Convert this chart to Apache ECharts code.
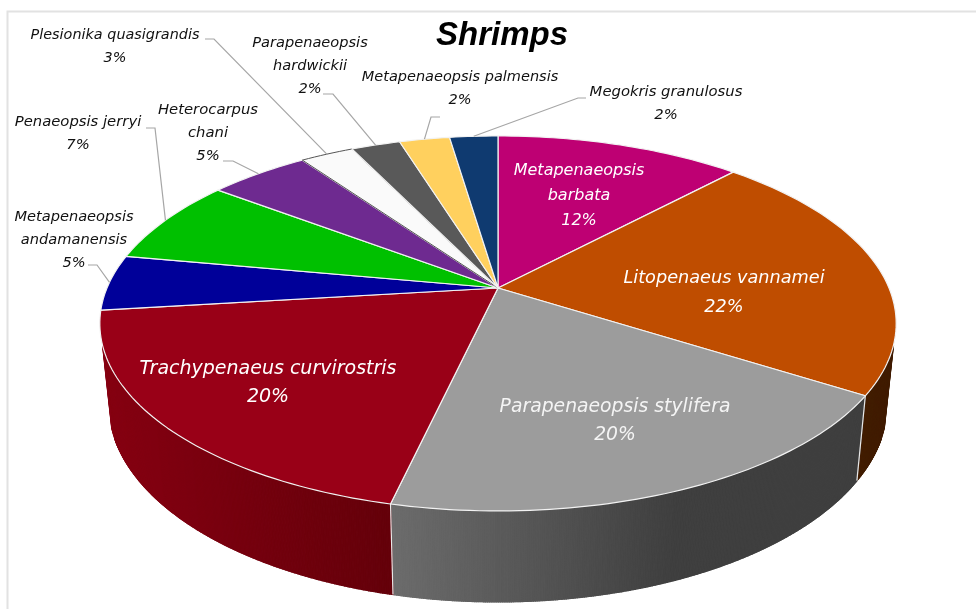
<!DOCTYPE html>
<html><head><meta charset="utf-8">
<style>html,body{margin:0;padding:0;background:#fff}#c{width:976px;height:609px}</style>
<script src="https://cdn.jsdelivr.net/npm/echarts@6/dist/echarts.min.js"></script>
</head><body><div id="c"></div>
<script>
const titleText = 'Shrimps';
const species = ['Metapenaeopsis\nbarbata','Litopenaeus vannamei','Parapenaeopsis stylifera','Trachypenaeus curvirostris','Metapenaeopsis\nandamanensis','Penaeopsis jerryi','Heterocarpus\nchani','Plesionika quasigrandis','Parapenaeopsis\nhardwickii','Metapenaeopsis palmensis','Megokris granulosus'];
const shares = [12,22,19.6,19.5,4.8,7.4,4.9,2.6,2.4,2.45,2.35];
const topColors = ['#BE0073','#BF4D00','#9C9C9C','#990017','#000099','#00C000','#6E2A90','#FAFAFA','#595959','#FFD05E','#0F3A70'];
const wallColors = [['#5f0039','#5f0039'],['#4a2000','#401c00'],['#6c6c6c','#3f3f3f'],['#860012','#64000a'],['#000060','#000060'],['#007000','#007000'],['#40185a','#40185a'],['#999999','#999999'],['#333333','#333333'],['#a08030','#a08030'],['#082040','#082040']];
const labelCenters = [[579,196],[724,293],[615,421],[268,383],[74,240],[78,134],[208,133],[115,47],[310,66],[460,89],[666,104]];
const labelSizes = [16,17.7,18.8,19,14.6,14.8,14.8,14.4,14.6,14.5,14.8];
const labelColors = ['#fff','#fff','#f4f4f4','#fff','#111','#111','#111','#111','#111','#111','#111'];
const leaderStarts = [null,null,null,null,[[88,265],[97,265]],[[146,128],[155,128]],[[223,161],[233,161]],[[205,39],[214,39]],[[323,94],[333,94]],[[440,117],[431,117]],[[586,98],[578,98]]];

const FONT = 'DejaVu Sans';
const total = shares.reduce((a,b)=>a+b,0);
const cum = [0]; shares.forEach(v=>cum.push(cum[cum.length-1]+v));
const APEX=[498,288], A=391, B=180.8, P=-0.189;
function rim(t){ // t: fraction of the turn, clockwise from 12 o'clock (perspective-projected disc)
  const th=t*2*Math.PI, u=Math.sin(th), v=-Math.cos(th), d=1+P*v;
  return [APEX[0]+A*u/d, APEX[1]+B*v/d];
}
function low(p){ return [APEX[0]+(p[0]-APEX[0])*0.977, p[1]+85+(p[1]-398)*0.053]; }
function arc(i,dens){ const n=Math.max(8,Math.ceil(shares[i]*dens)), pts=[];
  for(let k=0;k<=n;k++) pts.push(rim((cum[i]+shares[i]*k/n)/total)); return pts; }

const option={
  animation:false, backgroundColor:'#fff',
  title:{text:titleText,left:497,top:14,textAlign:'center',textStyle:{fontFamily:'Liberation Sans',fontStyle:'italic',fontWeight:'bold',fontSize:33,color:'#000'}},
  graphic:[{type:'polyline',z:0,shape:{points:[[7.5,609],[7.5,11.5],[976,11.5]]},style:{fill:null,stroke:'#e2e2e2',lineWidth:2},silent:true}],
  series:[
   {type:'custom',coordinateSystem:'none',z:1,silent:true,data:shares.map(v=>[v]),
    renderItem(p,api){const i=p.dataIndex, a=arc(i,16), b=a.map(low), kids=[];
      if(Math.max(...a.map(q=>q[1]))<APEX[1]+30) return {type:'group',children:[]};
      const xs=a.concat(b).map(q=>q[0]), x0=Math.min(...xs), x1=Math.max(...xs);
      for(let k=0;k<a.length-1;k++){
        if(Math.min(a[k][1],a[k+1][1])<APEX[1]+57) continue;
        const f=((a[k][0]+a[k+1][0])/2-x0)/(x1-x0), g=i===2?Math.min(1,f/0.6):f;
        const col=echarts.color.lerp(g,wallColors[i]);
        kids.push({type:'polygon',shape:{points:[a[k],a[k+1],b[k+1],b[k]]},style:{fill:col,stroke:col,lineWidth:1.2}});
      }
      if(i===2){ [0,a.length-1].forEach(k=>kids.push({type:'line',shape:{x1:a[k][0],y1:a[k][1],x2:b[k][0],y2:b[k][1]},style:{stroke:'#e8e8e8',lineWidth:1.2},z2:5})); }
      return {type:'group',children:kids};}},
   {type:'custom',coordinateSystem:'none',z:2,silent:true,data:shares.map(v=>[v]),
    renderItem(p,api){const i=p.dataIndex;
      return {type:'polygon',shape:{points:[APEX].concat(arc(i,3))},style:{fill:topColors[i],stroke:i===7?'#555':'#f2f2f2',lineWidth:i===7?1:1.2,lineJoin:'round'}};}},
   {type:'custom',coordinateSystem:'none',z:3,silent:true,data:shares.map(v=>[v]),
    renderItem(p,api){const i=p.dataIndex, kids=[];
      if(leaderStarts[i]) kids.push({type:'polyline',shape:{points:leaderStarts[i].concat([rim((cum[i]+shares[i]/2)/total)])},style:{fill:null,stroke:'#a6a6a6',lineWidth:1.2}});
      kids.push({type:'text',x:labelCenters[i][0],y:labelCenters[i][1],style:{text:species[i]+'\n'+Math.round(api.value(0))+'%',fill:labelColors[i],fontFamily:FONT,fontStyle:'italic',fontSize:labelSizes[i],lineHeight:i<4?(i===0?25:28.5):23,align:'center',verticalAlign:'middle'}});
      return {type:'group',children:kids};}}
  ]
};
echarts.init(document.getElementById('c'),null,{renderer:'canvas'}).setOption(option);
</script></body></html>
